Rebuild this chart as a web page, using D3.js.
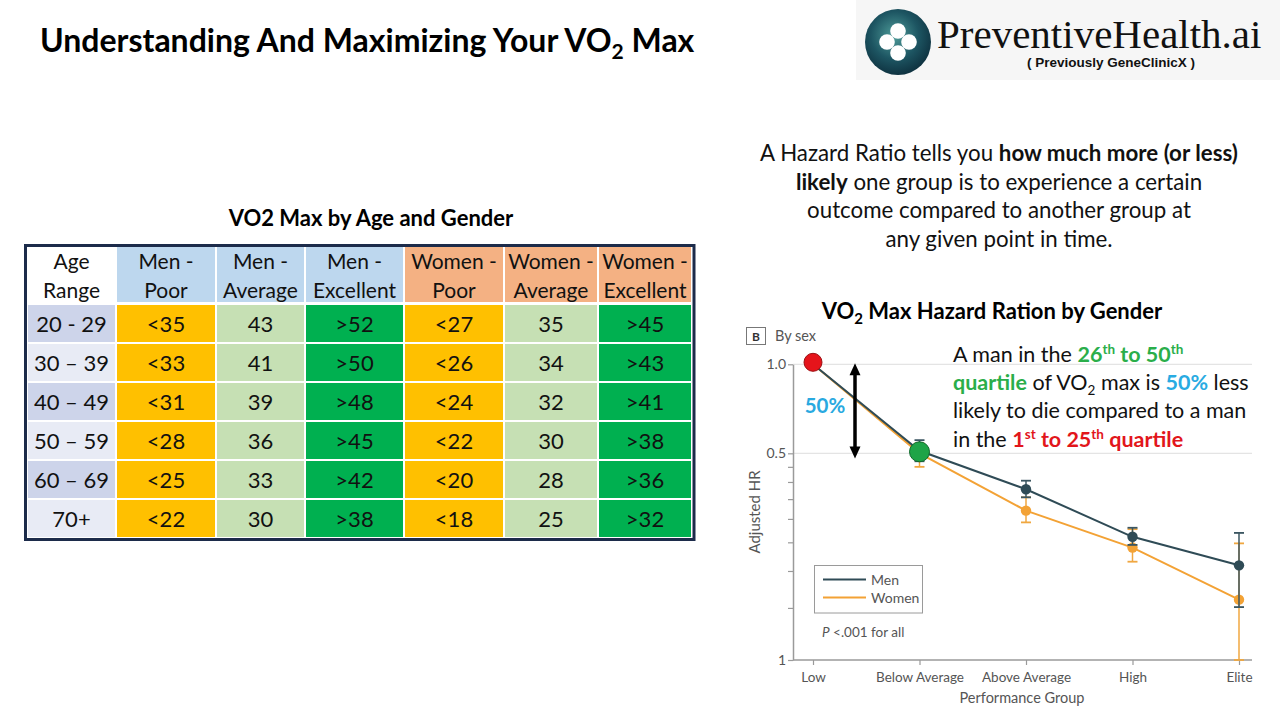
<!DOCTYPE html>
<html>
<head>
<meta charset="utf-8">
<script src="https://cdn.jsdelivr.net/npm/d3@7"></script>
<style>
  body { margin: 0; background: #fff; }
  svg { display: block; }
  text { font-family: Lato, "Open Sans", sans-serif; }
</style>
</head>
<body>
<svg id="page" width="1280" height="720"></svg>
<script>
// ---- table data ----
const ageRanges = ["20 - 29", "30 – 39", "40 – 49", "50 – 59", "60 – 69", "70+"];
const tableHeaders = [["Age", "Range"], ["Men -", "Poor"], ["Men -", "Average"], ["Men -", "Excellent"],
                      ["Women -", "Poor"], ["Women -", "Average"], ["Women -", "Excellent"]];
const menPoor = ["<35", "<33", "<31", "<28", "<25", "<22"];
const menAverage = ["43", "41", "39", "36", "33", "30"];
const menExcellent = [">52", ">50", ">48", ">45", ">42", ">38"];
const womenPoor = ["<27", "<26", "<24", "<22", "<20", "<18"];
const womenAverage = ["35", "34", "32", "30", "28", "25"];
const womenExcellent = [">45", ">43", ">41", ">38", ">36", ">32"];

// ---- hazard ratio data ----
const groups = ["Low", "Below Average", "Above Average", "High", "Elite"];
const menHR = [1.0, 0.51, 0.378, 0.261, 0.209];
const menLow = [null, 0.47, 0.355, 0.245, 0.151];
const menHigh = [null, 0.554, 0.404, 0.28, 0.269];
const womenHR = [1.0, 0.5, 0.32, 0.24, 0.16];
const womenLow = [null, 0.45, 0.292, 0.215, 0.1];
const womenHigh = [null, 0.54, 0.355, 0.277, 0.248];
const yMajor = [1.0, 0.5, 0.1];
const yMajorLabels = ["1.0", "0.5", "1"];
const yMinor = [0.45, 0.4, 0.35, 0.3, 0.25, 0.2, 0.15];

const svg = d3.select("#page");

// ---- header title ----
const title = svg.append("text").attr("x", 40).attr("y", 52)
  .attr("font-size", 32).attr("font-weight", 700).attr("fill", "#000");
title.append("tspan").text("Understanding And Maximizing Your VO");
title.append("tspan").text("2").attr("font-size", 21).attr("dy", 7);
title.append("tspan").text(" Max").attr("dy", -7);

// ---- logo ----
const defs = svg.append("defs");
const grad = defs.append("radialGradient").attr("id", "logoGrad").attr("cx", "45%").attr("cy", "40%").attr("r", "60%");
grad.append("stop").attr("offset", "0%").attr("stop-color", "#4f9d9a");
grad.append("stop").attr("offset", "60%").attr("stop-color", "#1d5562");
grad.append("stop").attr("offset", "100%").attr("stop-color", "#0f3341");

svg.append("rect").attr("x", 856).attr("y", 0).attr("width", 424).attr("height", 80).attr("fill", "#f6f6f6");
const logo = svg.append("g").attr("transform", "translate(898,42)");
logo.append("circle").attr("r", 33).attr("fill", "url(#logoGrad)");
[[0, -11], [-11, 0], [11, 0], [0, 11]].forEach(([dx, dy]) => {
  logo.append("circle").attr("cx", dx).attr("cy", dy).attr("r", 7.8).attr("fill", "#fff");
});
svg.append("text").attr("x", 937).attr("y", 48).attr("font-size", 41)
  .style("font-family", "'Liberation Serif', 'DejaVu Serif', serif").attr("fill", "#111")
  .text("PreventiveHealth.ai");
svg.append("text").attr("x", 1111).attr("y", 67).attr("text-anchor", "middle").attr("font-size", 13.5)
  .attr("font-weight", 700).style("font-family", "'Liberation Sans', Arial, sans-serif").attr("fill", "#111")
  .text("( Previously  GeneClinicX )");

// ---- table ----
svg.append("text").attr("x", 371).attr("y", 226).attr("text-anchor", "middle")
  .attr("font-size", 22).attr("font-weight", 700).text("VO2 Max by Age and Gender");

const colEdges = [27, 116, 216, 305, 404, 504, 598, 692];
const headerTop = 247, headerH = 57, rowH = 39;
const columns = [ageRanges, menPoor, menAverage, menExcellent, womenPoor, womenAverage, womenExcellent];
const headerFill = ["#ffffff", "#bdd7ee", "#bdd7ee", "#bdd7ee", "#f4b183", "#f4b183", "#f4b183"];
const cellFill = (c, r) => c === 0 ? (r % 2 === 0 ? "#cdd4ea" : "#e8ebf5")
  : ["#ffc000", "#c6e0b4", "#00b050"][(c - 1) % 3];

const table = svg.append("g");
tableHeaders.forEach((lines, c) => {
  const x0 = colEdges[c], w = colEdges[c + 1] - x0;
  table.append("rect").attr("x", x0 + 1).attr("y", headerTop).attr("width", w - 2).attr("height", headerH - 2)
    .attr("fill", headerFill[c]);
  lines.forEach((t, i) => {
    table.append("text").attr("x", x0 + w / 2).attr("y", headerTop + 22 + i * 28.5)
      .attr("text-anchor", "middle").attr("font-size", 21).attr("fill", "#111").text(t);
  });
});
columns.forEach((vals, c) => {
  const x0 = colEdges[c], w = colEdges[c + 1] - x0;
  vals.forEach((v, r) => {
    const y0 = headerTop + headerH + r * rowH;
    table.append("rect").attr("x", x0 + 1).attr("y", y0 + 1).attr("width", w - 2).attr("height", rowH - 2)
      .attr("fill", cellFill(c, r));
    table.append("text").attr("x", x0 + w / 2).attr("y", y0 + rowH / 2 + 8)
      .attr("text-anchor", "middle").attr("font-size", 22).attr("fill", "#111").text(v);
  });
});
table.append("rect").attr("x", 25.5).attr("y", 245.5).attr("width", 668.5)
  .attr("height", headerH + rowH * 6 + 3).attr("fill", "none").attr("stroke", "#1c2b4a").attr("stroke-width", 3);

// ---- hazard ratio explanation ----
const paraLines = [
  [["A Hazard Ratio tells you ", false], ["how much more (or less)", true]],
  [["likely", true], [" one group is to experience a certain", false]],
  [["outcome compared to another group at", false]],
  [["any given point in time.", false]]
];
paraLines.forEach((segs, i) => {
  const t = svg.append("text").attr("x", 999).attr("y", 161 + i * 28.5).attr("text-anchor", "middle")
    .attr("font-size", 22.3).attr("fill", "#111");
  segs.forEach(([s, b]) => t.append("tspan").attr("font-weight", b ? 700 : 400).text(s));
});

// ---- hazard ratio chart ----
const chartTitle = svg.append("text").attr("x", 992).attr("y", 319).attr("text-anchor", "middle")
  .attr("font-size", 22).attr("font-weight", 700).attr("fill", "#000");
chartTitle.append("tspan").text("VO");
chartTitle.append("tspan").text("2").attr("font-size", 15).attr("dy", 5);
chartTitle.append("tspan").text(" Max Hazard Ration by Gender").attr("dy", -5);

const x = d3.scalePoint().domain(groups).range([813, 1239]);
const y = d3.scaleLog().domain([0.1, 1]).range([660, 364.3]);
const axisColor = "#9a9a9a", labelColor = "#555";

// panel label
svg.append("rect").attr("x", 746.5).attr("y", 327.5).attr("width", 19).attr("height", 17)
  .attr("fill", "#fff").attr("stroke", "#777");
svg.append("text").attr("x", 756).attr("y", 341).attr("text-anchor", "middle").attr("font-size", 12)
  .attr("font-weight", 700).attr("fill", "#333").text("B");
svg.append("text").attr("x", 775).attr("y", 341).attr("font-size", 14.5).attr("fill", labelColor).text("By sex");

// gridlines
svg.append("g").selectAll("line").data([1.0, 0.5]).join("line")
  .attr("x1", 793).attr("x2", 1252).attr("y1", d => y(d)).attr("y2", d => y(d))
  .attr("stroke", "#e4e4e4").attr("stroke-width", 1.2);

// y axis
const yAxisG = svg.append("g").attr("transform", "translate(793,0)")
  .call(d3.axisLeft(y).tickValues(yMajor.concat(yMinor)).tickSize(5).tickSizeOuter(0)
    .tickFormat(d => { const i = yMajor.indexOf(d); return i >= 0 ? yMajorLabels[i] : ""; }));
yAxisG.select(".domain").attr("stroke", axisColor).attr("stroke-width", 1.5);
yAxisG.selectAll(".tick line").attr("stroke", axisColor).attr("stroke-width", 1.2);
yAxisG.selectAll(".tick text").attr("fill", labelColor).attr("font-size", 14)
  .style("font-family", "Lato, sans-serif").attr("x", -7);

// x axis
const xAxisG = svg.append("g").attr("transform", "translate(0,660)")
  .call(d3.axisBottom(x).tickSize(5).tickSizeOuter(0));
xAxisG.select(".domain").remove();
xAxisG.append("line").attr("x1", 793).attr("x2", 1252).attr("stroke", axisColor).attr("stroke-width", 1.5);
xAxisG.selectAll(".tick line").attr("stroke", axisColor).attr("stroke-width", 1.2);
xAxisG.selectAll(".tick text").attr("fill", labelColor).attr("font-size", 13.5)
  .style("font-family", "Lato, sans-serif").attr("dy", "1.05em");

svg.append("text").attr("x", 1022).attr("y", 703).attr("text-anchor", "middle").attr("font-size", 14.5)
  .attr("fill", labelColor).text("Performance Group");
svg.append("text").attr("transform", "translate(760,512) rotate(-90)").attr("text-anchor", "middle")
  .attr("font-size", 15).attr("fill", labelColor).text("Adjusted HR");

// series
const series = [
  { name: "Women", color: "#f3a235", bar: "#f0a740", hr: womenHR, lo: womenLow, hi: womenHigh },
  { name: "Men", color: "#2f4b56", bar: "#3b5661", hr: menHR, lo: menLow, hi: menHigh }
];
const line = d3.line().x((d, i) => x(groups[i])).y(d => y(d));
series.forEach(s => {
  const g = svg.append("g");
  s.hr.forEach((v, i) => {
    if (s.lo[i] == null) return;
    const cx = x(groups[i]);
    g.append("line").attr("x1", cx).attr("x2", cx).attr("y1", y(s.lo[i])).attr("y2", y(s.hi[i]))
      .attr("stroke", s.bar).attr("stroke-width", 1.5);
    [s.lo[i], s.hi[i]].forEach(e => g.append("line").attr("x1", cx - 5).attr("x2", cx + 5)
      .attr("y1", y(e)).attr("y2", y(e)).attr("stroke", s.bar).attr("stroke-width", 1.8));
  });
  g.append("path").datum(s.hr).attr("d", line).attr("fill", "none")
    .attr("stroke", s.color).attr("stroke-width", 2);
  g.selectAll("circle").data(s.hr).join("circle")
    .attr("cx", (d, i) => x(groups[i])).attr("cy", d => y(d)).attr("r", 5.2).attr("fill", s.color);
});

// legend
svg.append("rect").attr("x", 814.5).attr("y", 565.5).attr("width", 108).attr("height", 47.5)
  .attr("fill", "#fff").attr("stroke", "#9a9a9a");
series.slice().reverse().forEach((s, i) => {
  const ly = 579.5 + i * 18;
  svg.append("line").attr("x1", 823).attr("x2", 866).attr("y1", ly).attr("y2", ly)
    .attr("stroke", s.color).attr("stroke-width", 2);
  svg.append("text").attr("x", 871).attr("y", ly + 5).attr("font-size", 14).attr("fill", labelColor).text(s.name);
});
const pText = svg.append("text").attr("x", 822).attr("y", 637).attr("font-size", 13.5).attr("fill", labelColor);
pText.append("tspan").attr("font-style", "italic").text("P");
pText.append("tspan").text(" <.001 for all");

// highlighted points
svg.append("circle").attr("cx", x("Low")).attr("cy", y(1.0) - 2).attr("r", 9)
  .attr("fill", "#e5141b").attr("stroke", "#9c0f12").attr("stroke-width", 1);
svg.append("circle").attr("cx", x("Below Average")).attr("cy", y(0.506)).attr("r", 10)
  .attr("fill", "#1ea447").attr("stroke", "#0f6a2c").attr("stroke-width", 1);

// 50% double arrow
const ax = 855, aTop = y(1.0) - 1, aBot = y(0.48);
svg.append("line").attr("x1", ax).attr("x2", ax).attr("y1", aTop + 10).attr("y2", aBot - 10)
  .attr("stroke", "#000").attr("stroke-width", 3.5);
const tri = d3.line();
svg.append("path").attr("d", tri([[ax, aTop], [ax - 5.5, aTop + 12], [ax + 5.5, aTop + 12]]) + "Z").attr("fill", "#000");
svg.append("path").attr("d", tri([[ax, aBot], [ax - 5.5, aBot - 12], [ax + 5.5, aBot - 12]]) + "Z").attr("fill", "#000");
svg.append("text").attr("x", 825).attr("y", 413).attr("text-anchor", "middle").attr("font-size", 20.5)
  .attr("font-weight", 700).attr("fill", "#29a9e0").text("50%");

// annotation
const green = "#2aae4a", blue = "#29abe2", red = "#e2161b";
const noteLines = [
  [["A man in the ", null], ["26", green], ["th", green, "sup"], [" to 50", green], ["th", green, "sup"]],
  [["quartile", green], [" of VO", null], ["2", null, "sub"], [" max is ", null], ["50%", blue], [" less", null]],
  [["likely to die compared to a man", null]],
  [["in the ", null], ["1", red], ["st", red, "sup"], [" to 25", red], ["th", red, "sup"], [" quartile", red]]
];
const noteBase = [362, 390, 418, 446.5];
noteLines.forEach((segs, i) => {
  const t = svg.append("text").attr("x", 953).attr("y", noteBase[i]).attr("font-size", 21.5).attr("fill", "#111");
  let shift = 0;
  segs.forEach(([s, col, pos]) => {
    const sp = t.append("tspan").text(s).attr("font-weight", col ? 700 : 400).attr("fill", col || "#111");
    const want = pos === "sup" ? -8 : pos === "sub" ? 5 : 0;
    if (want !== shift) { sp.attr("dy", want - shift); shift = want; }
    if (pos) sp.attr("font-size", 13.5);
  });
});
</script>
</body>
</html>
